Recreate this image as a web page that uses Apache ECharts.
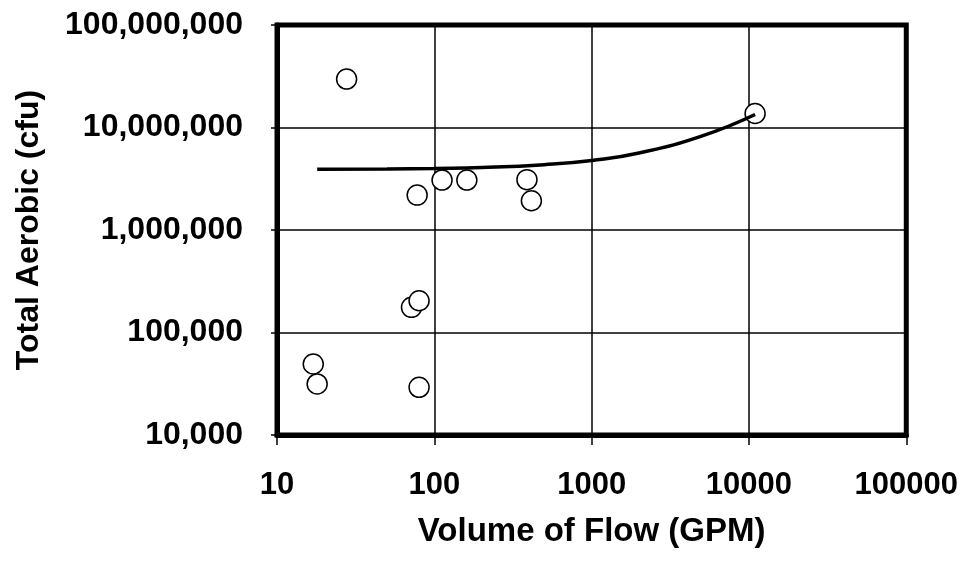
<!DOCTYPE html>
<html>
<head>
<meta charset="utf-8">
<script src="https://cdn.jsdelivr.net/npm/echarts@6/dist/echarts.min.js"></script>
<style>
html,body{margin:0;padding:0;background:#fff;}
#main{width:961px;height:565px;}
</style>
</head>
<body>
<div id="main"></div>
<script>
// Observed data points (Volume of Flow GPM, Total Aerobic cfu)
var flowGPM = [27.7, 17.0, 18.0, 80, 71.6, 80, 77.8, 112, 161, 388, 414, 10940];
var aerobicCfu = [29700000, 49300, 31500, 29200, 176000, 204000, 2190000, 3070000, 3070000, 3100000, 1930000, 13700000];

// Trend line
var trendX = [18, 50, 100, 200, 500, 1000, 2000, 5000, 10940];
var trendY = [3920000, 3940000, 3990000, 4070000, 4340000, 4770000, 5640000, 8250000, 13400000];

// Axis tick labels
var xTickLabels = ['10', '100', '1000', '10000', '100000'];
var yTickLabels = ['10,000', '100,000', '1,000,000', '10,000,000', '100,000,000'];

var scatterData = flowGPM.map(function (x, i) { return [x, aerobicCfu[i]]; });
var trendData = trendX.map(function (x, i) { return [x, trendY[i]]; });

var font = '"Liberation Sans", Arial, sans-serif';

function xLabel(v) {
  var idx = Math.round(Math.log10(v)) - 1;
  return xTickLabels[idx] !== undefined ? xTickLabels[idx] : '';
}
function yLabel(v) {
  var idx = Math.round(Math.log10(v)) - 4;
  return yTickLabels[idx] !== undefined ? yTickLabels[idx] : '';
}

var chart = echarts.init(document.getElementById('main'), null, {renderer: 'canvas'});
chart.setOption({
  backgroundColor: '#fff',
  animation: false,
  grid: {
    left: 277, right: 54, top: 25, bottom: 130,
    show: true, borderColor: '#000', borderWidth: 5, backgroundColor: 'transparent'
  },
  xAxis: {
    type: 'log', logBase: 10, min: 10, max: 100000,
    name: 'Volume of Flow (GPM)', nameLocation: 'middle', nameGap: 80,
    nameTextStyle: {fontFamily: font, fontWeight: 'bold', fontSize: 33, color: '#000'},
    axisLine: {show: true, lineStyle: {color: '#000', width: 5}},
    axisTick: {show: true, length: 10, lineStyle: {color: '#000', width: 1.5}},
    splitLine: {show: true, lineStyle: {color: '#000', width: 1.5}},
    minorTick: {show: false}, minorSplitLine: {show: false},
    axisLabel: {
      formatter: xLabel, margin: 35,
      fontFamily: font, fontWeight: 'bold', fontSize: 31, color: '#000'
    }
  },
  yAxis: {
    type: 'log', logBase: 10, min: 10000, max: 100000000,
    name: 'Total Aerobic (cfu)', nameLocation: 'middle', nameGap: 232, nameRotate: 90,
    nameTextStyle: {fontFamily: font, fontWeight: 'bold', fontSize: 32, color: '#000'},
    axisLine: {show: true, lineStyle: {color: '#000', width: 5}},
    axisTick: {show: true, length: 6, lineStyle: {color: '#000', width: 1.5}},
    splitLine: {show: true, lineStyle: {color: '#000', width: 1.5}},
    axisLabel: {
      formatter: yLabel, margin: 34,
      fontFamily: font, fontWeight: 'bold', fontSize: 32, color: '#000'
    }
  },
  series: [
    {
      type: 'scatter',
      data: scatterData,
      symbol: 'circle',
      symbolSize: 20,
      itemStyle: {color: '#fff', borderColor: '#000', borderWidth: 1.5, opacity: 1},
      z: 2
    },
    {
      type: 'line',
      data: trendData,
      smooth: true,
      showSymbol: false,
      lineStyle: {color: '#000', width: 3.5},
      z: 3
    }
  ]
});
</script>
</body>
</html>
